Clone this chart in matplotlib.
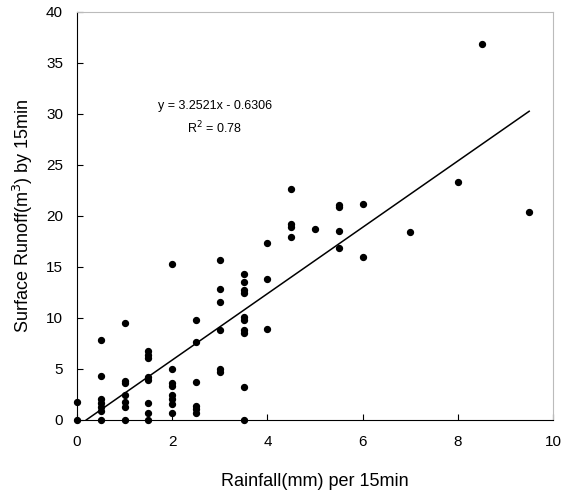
import numpy as np
import matplotlib.pyplot as plt

plt.rcParams['font.family'] = ['Liberation Sans', 'DejaVu Sans']

# Rainfall (mm) per 15 min and surface runoff (m3) per 15 min
rainfall = [0, 0,
            0.5, 0.5, 0.5, 0.5, 0.5, 0.5, 0.5,
            1, 1, 1, 1, 1, 1, 1,
            1.5, 1.5, 1.5, 1.5, 1.5, 1.5, 1.5, 1.5,
            2, 2, 2, 2, 2, 2, 2, 2,
            2.5, 2.5, 2.5, 2.5, 2.5, 2.5,
            3, 3, 3, 3, 3, 3,
            3.5, 3.5, 3.5, 3.5, 3.5, 3.5, 3.5, 3.5, 3.5, 3.5,
            4, 4, 4,
            4.5, 4.5, 4.5, 4.5,
            5,
            5.5, 5.5, 5.5, 5.5,
            6, 6,
            7, 8, 8.5, 9.5]
runoff = [1.8, 0,
          7.8, 4.3, 2.1, 1.7, 1.3, 0.9, 0,
          9.5, 3.8, 3.6, 2.45, 1.8, 1.3, 0,
          6.75, 6.4, 6.1, 4.25, 3.9, 1.7, 0.7, 0,
          15.3, 5.0, 3.65, 3.3, 2.45, 2.05, 1.6, 0.65,
          9.8, 7.6, 3.7, 1.4, 1.05, 0.7,
          15.7, 12.8, 11.6, 8.8, 5.0, 4.75,
          14.3, 13.5, 12.7, 12.4, 10.1, 9.8, 8.8, 8.55, 3.2, 0,
          17.3, 13.8, 8.9,
          22.6, 19.2, 18.95, 17.9,
          18.7,
          21.1, 20.85, 18.55, 16.9,
          21.2, 15.95,
          18.4, 23.3, 36.9, 20.4]

slope = 3.2521
intercept = -0.6306
r2 = 0.78

fig = plt.figure(figsize=(5.64, 4.97), dpi=100)
ax = fig.add_axes([0.1365, 0.155, 0.844, 0.821])

ax.scatter(rainfall, runoff, s=18, color='black', zorder=3, clip_on=False)

# Trend line
x_fit = np.array([-intercept / slope, 9.5])
ax.plot(x_fit, slope * x_fit + intercept, color='black', linewidth=1.1)

ax.text(2.9, 30.8, 'y = 3.2521x - 0.6306', ha='center', va='center', fontsize=9)
ax.text(2.9, 28.6, 'R$^2$ = %.2f' % r2, ha='center', va='center', fontsize=9)

ax.set_xlim(0, 10)
ax.set_ylim(0, 40)
ax.set_xticks(np.arange(0, 11, 2))
ax.set_yticks(np.arange(0, 41, 5))
ax.tick_params(direction='in', length=4, labelsize=11)
ax.tick_params(axis='x', pad=11)
ax.tick_params(axis='y', pad=10)

for side in ['top', 'right']:
    ax.spines[side].set_color('#bbbbbb')

ax.set_xlabel('Rainfall(mm) per 15min', fontsize=13, labelpad=17)
ax.set_ylabel('Surface Runoff(m$^3$) by 15min', fontsize=13, labelpad=8)

fig.savefig('out.png', dpi=100)
